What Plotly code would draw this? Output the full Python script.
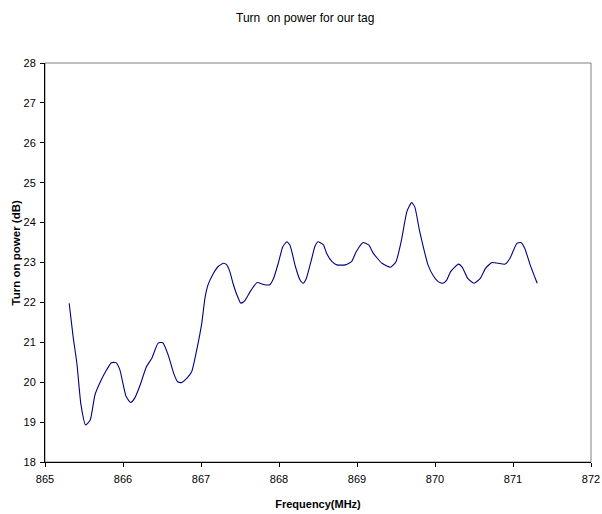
import plotly.graph_objects as go

freq_mhz = [865.31, 865.36, 865.41, 865.46, 865.52, 865.58, 865.64, 865.71, 865.79, 865.85,
            865.91, 865.96, 866.04, 866.10, 866.15, 866.22, 866.30, 866.37, 866.45, 866.51,
            866.58, 866.65, 866.70, 866.75, 866.82, 866.88, 866.94, 867.01, 867.05, 867.09,
            867.16, 867.22, 867.29, 867.33, 867.37, 867.41, 867.46, 867.51, 867.56, 867.63,
            867.72, 867.80, 867.88, 867.93, 867.99, 868.05, 868.10, 868.14, 868.21, 868.27,
            868.31, 868.35, 868.42, 868.46, 868.50, 868.57, 868.61, 868.68, 868.74, 868.85,
            868.93, 868.99, 869.08, 869.15, 869.21, 869.32, 869.43, 869.50, 869.57, 869.64,
            869.70, 869.74, 869.80, 869.86, 869.91, 869.98, 870.04, 870.10, 870.15, 870.20,
            870.30, 870.35, 870.42, 870.50, 870.58, 870.65, 870.73, 870.81, 870.90, 870.96,
            871.05, 871.10, 871.15, 871.22, 871.31]
power_db = [21.98, 21.15, 20.45, 19.45, 18.93, 19.05, 19.68, 20.01, 20.31, 20.49,
            20.49, 20.31, 19.64, 19.49, 19.60, 19.93, 20.39, 20.60, 20.98, 20.99,
            20.68, 20.22, 20.01, 19.99, 20.10, 20.26, 20.76, 21.48, 22.10, 22.44,
            22.73, 22.90, 22.98, 22.94, 22.77, 22.48, 22.19, 21.98, 22.04, 22.27,
            22.50, 22.45, 22.44, 22.60, 22.98, 23.40, 23.52, 23.44, 22.90, 22.56,
            22.48, 22.60, 23.10, 23.40, 23.52, 23.44, 23.23, 23.02, 22.94, 22.94,
            23.02, 23.27, 23.50, 23.44, 23.23, 22.98, 22.88, 23.02, 23.56, 24.28,
            24.50, 24.40, 23.81, 23.31, 22.94, 22.66, 22.52, 22.48, 22.56, 22.77,
            22.96, 22.88, 22.60, 22.48, 22.60, 22.86, 23.00, 22.98, 22.96, 23.10,
            23.48, 23.50, 23.36, 22.94, 22.48]

x_ticks = [865, 866, 867, 868, 869, 870, 871, 872]
y_ticks = [18, 19, 20, 21, 22, 23, 24, 25, 26, 27, 28]

font_family = "Liberation Sans, Arial, sans-serif"

fig = go.Figure()
fig.add_trace(go.Scatter(
    x=freq_mhz, y=power_db, mode="lines",
    line=dict(color="#000080", width=1.1, shape="spline", smoothing=0.5),
    showlegend=False, hoverinfo="skip"))

fig.update_layout(
    width=602, height=514,
    margin=dict(l=45, r=11, t=63, b=52, autoexpand=False),
    paper_bgcolor="white", plot_bgcolor="white",
    font=dict(family=font_family, size=11, color="black"),
    title=dict(text="Turn  on power for our tag", x=0.507, xanchor="center",
               xref="container", y=0.965, yanchor="middle",
               font=dict(family=font_family, size=12, color="black")),
    shapes=[dict(type="rect", xref="paper", yref="paper", x0=0, x1=1, y0=0, y1=1,
                 line=dict(color="#808080", width=1), layer="below")],
    annotations=[dict(text="<b>Turn on power (dB)</b>", textangle=-90,
                      xref="paper", yref="paper", x=-0.053, y=0.523,
                      xanchor="center", yanchor="middle", showarrow=False,
                      font=dict(family=font_family, size=11.5, color="black"))],
)
fig.update_xaxes(
    range=[865, 872], tickvals=x_ticks, ticktext=[str(v) for v in x_ticks],
    showgrid=False, zeroline=False, showline=True, linecolor="black", linewidth=1,
    ticks="outside", ticklen=4, tickcolor="black", automargin=False,
    ticklabelstandoff=3, ticklabeloverflow="allow", tickfont=dict(color="black"),
    title=dict(text="<b>Frequency(MHz)</b>", standoff=16,
               font=dict(family=font_family, size=11)),
)
fig.update_yaxes(
    range=[18, 28], tickvals=y_ticks, ticktext=[str(v) for v in y_ticks],
    showgrid=False, zeroline=False, showline=True, linecolor="black", linewidth=1,
    ticks="outside", ticklen=4, tickcolor="black", automargin=False,
    ticklabelstandoff=2, tickfont=dict(color="black"),
)

fig.write_html(
    "out.html",
    config={"displayModeBar": False},
    post_script="document.body.style.margin='0';document.body.style.overflow='hidden';",
)
